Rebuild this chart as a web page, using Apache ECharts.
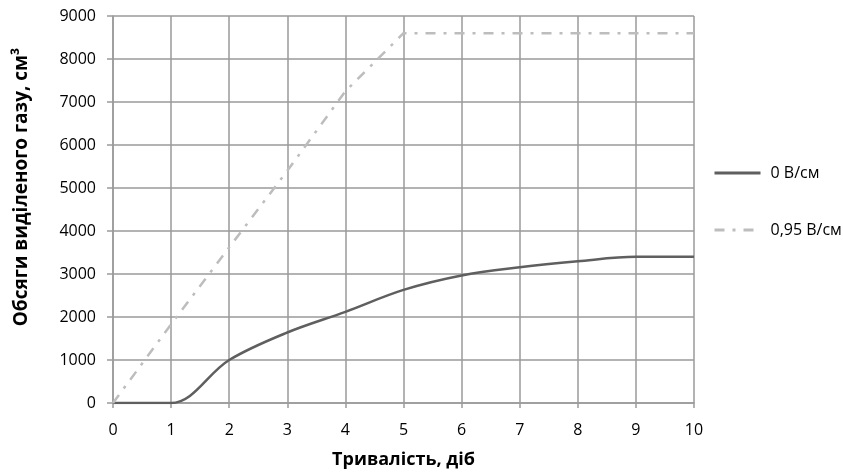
<!DOCTYPE html>
<html>
<head>
<meta charset="utf-8">
<script src="https://cdn.jsdelivr.net/npm/echarts@6/dist/echarts.min.js"></script>
<style>html,body{margin:0;padding:0;background:#fff}#c{width:843px;height:474px}</style>
</head>
<body>
<div id="c"></div>
<script>
var days = [0, 1, 2, 3, 4, 5, 6, 7, 8, 9, 10];
var series0Name = '0 В/см';
var series0 = [0, 0, 1000, 1640, 2120, 2630, 2965, 3155, 3295, 3400, 3400];
var series1Name = '0,95 В/см';
var series1X = [0, 1, 2, 3, 4, 5, 6, 7, 8, 9, 10];
var series1 = [0, 1830, 3620, 5400, 7250, 8600, 8600, 8600, 8600, 8600, 8600];
var xTitle = 'Тривалість, діб';
var yTitle = 'Обсяги виділеного газу, см³';

var font = '"Open Sans", "Noto Sans", sans-serif';
var chart = echarts.init(document.getElementById('c'), null, {renderer: 'canvas'});
chart.setOption({
  animation: false,
  backgroundColor: '#fff',
  grid: {left: 113, right: 149, top: 16, bottom: 70, containLabel: false},
  xAxis: {
    type: 'value', min: 0, max: 10, interval: 1,
    name: xTitle, nameLocation: 'middle', nameGap: 48,
    nameTextStyle: {fontFamily: font, fontWeight: 'bold', fontSize: 18, color: '#000'},
    axisLine: {show: true, lineStyle: {color: '#9a9a9a', width: 1.5}},
    axisTick: {show: true, length: 5, lineStyle: {color: '#9a9a9a', width: 1.5}},
    axisLabel: {fontFamily: font, fontSize: 16, color: '#000', margin: 19},
    splitLine: {show: true, lineStyle: {color: '#9a9a9a', width: 1.5}}
  },
  yAxis: {
    type: 'value', min: 0, max: 9000, interval: 1000,
    axisLine: {show: true, lineStyle: {color: '#9a9a9a', width: 1.5}},
    axisTick: {show: true, length: 6, lineStyle: {color: '#9a9a9a', width: 1.5}},
    axisLabel: {fontFamily: font, fontSize: 16, color: '#000', margin: 17,
                formatter: function (v) { return String(v); }},
    splitLine: {show: true, lineStyle: {color: '#9a9a9a', width: 1.5}}
  },
  legend: {
    orient: 'vertical', left: 708, top: 160, itemGap: 41,
    itemWidth: 46, itemHeight: 14,
    itemStyle: {opacity: 0},
    lineStyle: {width: 3},
    textStyle: {fontFamily: font, fontSize: 16, color: '#000', padding: [0, 0, 0, 5]},
    data: [series0Name, series1Name]
  },
  graphic: [{
    type: 'text', x: 22, y: 187, rotation: Math.PI / 2,
    style: {text: yTitle, fontFamily: font, fontWeight: 'bold', fontSize: 19, fill: '#000',
            align: 'center', verticalAlign: 'middle'}
  }],
  series: [{
    name: series0Name, type: 'line', symbol: 'none', smooth: 0.35,
    data: days.map(function (d, i) { return [d, series0[i]]; }),
    lineStyle: {color: '#5f5f5f', width: 2.5}, itemStyle: {color: '#5f5f5f'}
  }, {
    name: series1Name, type: 'line', symbol: 'none', smooth: false,
    data: series1X.map(function (d, i) { return [d, series1[i]]; }),
    lineStyle: {color: '#bdbdbd', width: 2.5, type: [10, 8, 3, 8]}, itemStyle: {color: '#bdbdbd'}
  }]
});
</script>
</body>
</html>
